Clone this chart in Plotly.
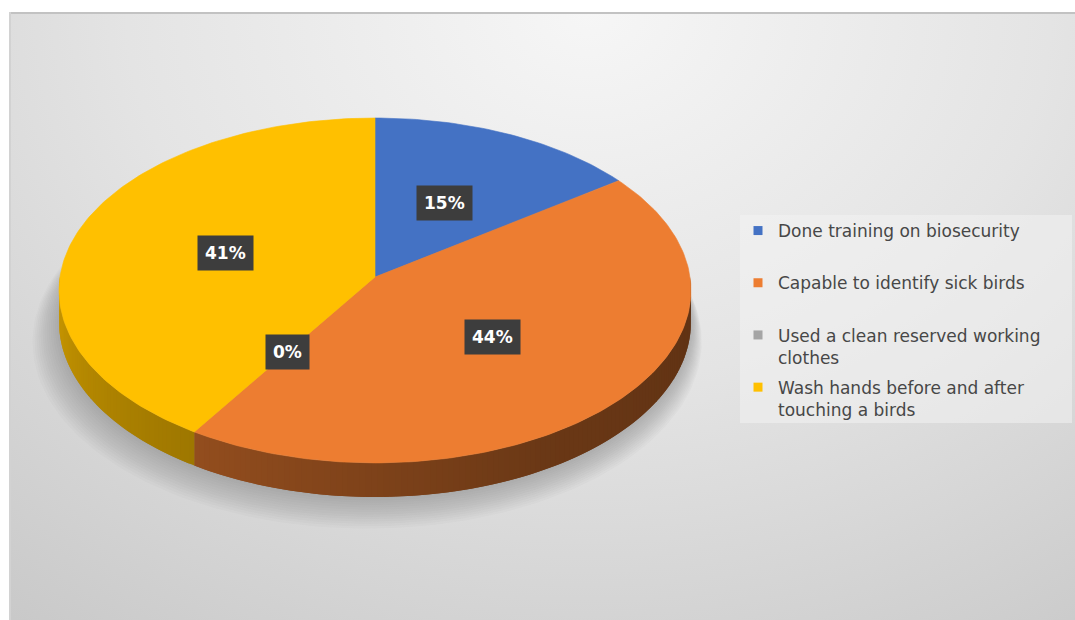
import base64
import numpy as np
import plotly.graph_objects as go

# ---- data -------------------------------------------------------------
categories = [
    "Done training on biosecurity",
    "Capable to identify sick birds",
    "Used a clean reserved working clothes",
    "Wash hands before and after touching a birds",
]
legend_text = [
    "Done training on biosecurity<br> ",
    "Capable to identify sick birds<br> ",
    "Used a clean reserved working<br>clothes",
    "Wash hands before and after<br>touching a birds",
]
shares = [15, 44, 0, 41]
slice_colors = ["#4472C4", "#ED7D31", "#A5A5A5", "#FFC000"]

# ---- geometry of the tilted 3-D disc (pixel units on hidden axes) ------
W, H = 1075, 620
CX, CY = 375.0, 277.0       # projected centre of the top face
RX, RY = 315.0, 171.4       # projected half-width / half-height
PERSP = 0.078               # perspective foreshortening of the far side
DEPTH = 31.4                # thickness of the disc


def project(t, r=1.0, drop=0.0):
    """Project a point of the disc (angle t clockwise from 12 o'clock)."""
    u = r * np.sin(t)
    v = r * np.cos(t)
    w = 1.0 + PERSP * v
    return CX + RX * u / w, CY - RY * v / w + drop / w


def hex_rgb(c):
    c = c.lstrip("#")
    return [int(c[i:i + 2], 16) for i in (0, 2, 4)]


def shade(c, f):
    r, g, b = hex_rgb(c)
    return f"rgb({int(r * f)},{int(g * f)},{int(b * f)})"


def side_factor(deg):
    return float(np.interp(deg, [90, 150, 212, 240, 270], [0.40, 0.45, 0.62, 0.70, 0.80]))


total = float(sum(shares))
bounds = np.concatenate([[0.0], np.cumsum(shares) / total * 2 * np.pi])

fig = go.Figure()

# soft drop shadow beneath the disc
tt = np.linspace(0, 2 * np.pi, 240)
for k in range(14):
    sx, sy = project(tt, 1.0 + 0.0045 * k, DEPTH + 1 + 1.3 * k)
    fig.add_trace(go.Scatter(
        x=sx - 0.6 * k, y=sy, mode="lines", fill="toself", line=dict(width=0),
        fillcolor="rgba(95,95,100,0.03)", hoverinfo="skip", showlegend=False))

# visible side wall (front half), drawn as overlapping thin strips for shading
lo_vis, hi_vis = np.pi / 2, 3 * np.pi / 2
step = np.radians(1.0)
for i, col in enumerate(slice_colors):
    a, b = max(bounds[i], lo_vis), min(bounds[i + 1], hi_vis)
    if b <= a:
        continue
    n = max(1, int(np.ceil((b - a) / step)))
    edges = np.linspace(a, b, n + 1)
    for j in range(n):
        s0 = edges[j]
        s1 = edges[min(j + 2, n)]          # overlap into the next strip
        ts = np.linspace(s0, s1, 5)
        xt, yt = project(ts)
        xb, yb = project(ts[::-1], drop=DEPTH)
        c = shade(col, side_factor(np.degrees((edges[j] + edges[j + 1]) / 2)))
        fig.add_trace(go.Scatter(
            x=np.concatenate([xt, xb]), y=np.concatenate([yt, yb]),
            mode="lines", fill="toself", fillcolor=c, line=dict(width=0),
            hoverinfo="skip", showlegend=False))

# top face slices
for i, (name, col) in enumerate(zip(categories, slice_colors)):
    a, b = bounds[i], bounds[i + 1]
    if b - a <= 0:
        continue
    ts = np.linspace(a, b, max(3, int(np.degrees(b - a))))
    xs, ys = project(ts)
    fig.add_trace(go.Scatter(
        x=np.concatenate([[CX], xs, [CX]]), y=np.concatenate([[CY], ys, [CY]]),
        mode="lines", fill="toself", fillcolor=col, line=dict(width=0.6, color=col),
        name=name, hoverinfo="name", showlegend=False))

# legend keys
for i, (txt, col) in enumerate(zip(legend_text, slice_colors)):
    fig.add_trace(go.Scatter(
        x=[None], y=[None], mode="markers", name=txt, legendgroup=f"g{i}",
        marker=dict(symbol="square", size=9, color=col)))

# percentage labels in dark boxes
annotations = []
for i, v in enumerate(shares):
    mid = (bounds[i] + bounds[i + 1]) / 2
    lx, ly = project(mid, 0.5)
    annotations.append(dict(
        x=lx, y=ly, xref="x", yref="y", text=f"{v}%", showarrow=False,
        font=dict(family="DejaVu Sans", size=17, color="white", weight="bold"),
        bgcolor="#3d3d3d", borderpad=7))

# chart-area background with a light radial gradient
svg = (
    '<svg xmlns="http://www.w3.org/2000/svg" width="1066" height="608">'
    '<defs><radialGradient id="g" gradientUnits="userSpaceOnUse" cx="580" cy="0" r="820" '
    'gradientTransform="translate(580 0) scale(1.25 1) translate(-580 0)">'
    '<stop offset="0" stop-color="#f6f6f6"/><stop offset="0.45" stop-color="#e4e4e4"/>'
    '<stop offset="1" stop-color="#c5c5c5"/></radialGradient></defs>'
    '<rect width="1066" height="608" fill="url(#g)"/>'
    '<line x1="0" y1="1" x2="1066" y2="1" stroke="#c2c2c2" stroke-width="2"/>'
    '<line x1="1" y1="0" x2="1" y2="608" stroke="#d2d2d2" stroke-width="2"/>'
    '</svg>'
)
bg_src = "data:image/svg+xml;base64," + base64.b64encode(svg.encode()).decode()

fig.update_layout(
    width=W, height=H,
    margin=dict(l=0, r=0, t=0, b=0),
    paper_bgcolor="white", plot_bgcolor="rgba(0,0,0,0)",
    xaxis=dict(range=[0, W], visible=False, fixedrange=True),
    yaxis=dict(range=[H, 0], visible=False, fixedrange=True),
    images=[dict(source=bg_src, xref="paper", yref="paper", x=9 / W, y=1 - 12 / H,
                 sizex=1066 / W, sizey=608 / H, xanchor="left", yanchor="top",
                 sizing="stretch", layer="below")],
    # light panel behind the legend
    shapes=[dict(type="rect", xref="paper", yref="paper", layer="below",
                 x0=740 / W, x1=1072 / W, y0=1 - 423 / H, y1=1 - 215 / H,
                 fillcolor="rgba(242,242,242,0.55)", line=dict(width=0))],
    annotations=annotations,
    showlegend=True,
    legend=dict(
        x=738 / W, y=1 - 213 / H, xanchor="left", yanchor="top",
        bgcolor="rgba(0,0,0,0)", borderwidth=0,
        font=dict(family="DejaVu Sans", size=17, color="#474747"),
        traceorder="grouped", tracegroupgap=5, valign="top",
        itemclick=False, itemdoubleclick=False),
    hovermode="closest",
)

fig.write_html("out.html")
